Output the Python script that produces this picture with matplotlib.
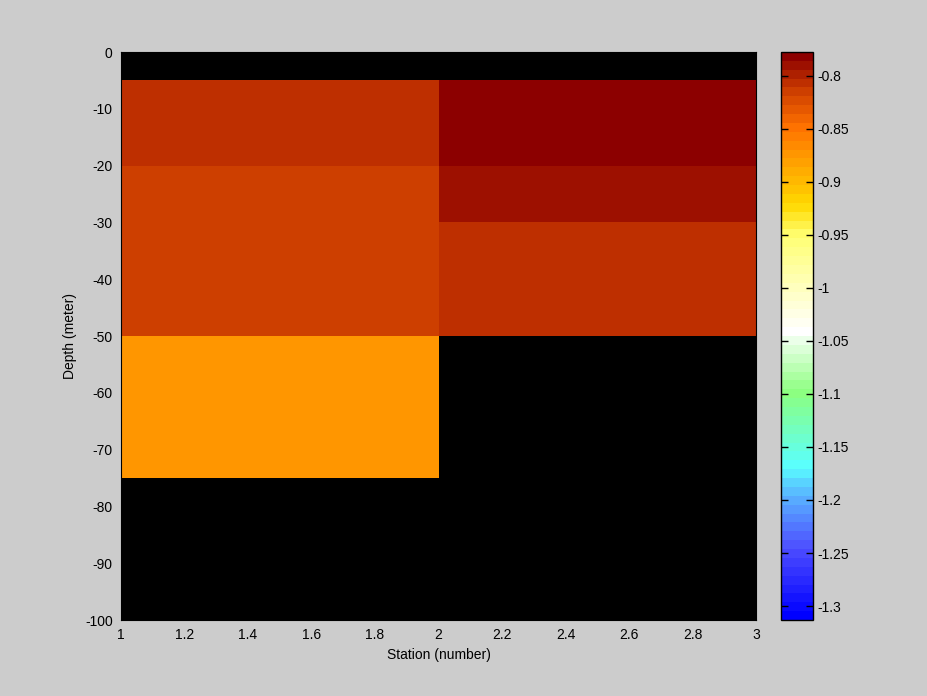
import numpy as np
import matplotlib.pyplot as plt
from matplotlib.colors import LinearSegmentedColormap, ListedColormap

# grid edges
station = [1, 2, 3]
depth = [0, -5, -20, -30, -50, -75, -100]

# values per depth layer (rows) and station interval (cols), nan = no data
values = np.array([
    [np.nan, np.nan],
    [-0.804, -0.782],
    [-0.818, -0.789],
    [-0.818, -0.804],
    [-0.870, np.nan],
    [np.nan, np.nan],
])

vmin, vmax = -1.3132, -0.7774

stops = [
    (-1.3132, (0.0, 0.0, 1.0)),
    (-1.25, (0.3, 0.3, 1.0)),
    (-1.2, (0.35, 0.7, 1.0)),
    (-1.17, (0.35, 1.0, 1.0)),
    (-1.1, (0.55, 1.0, 0.5)),
    (-1.04, (1.0, 1.0, 1.0)),
    (-0.95, (1.0, 1.0, 0.45)),
    (-0.92, (1.0, 0.85, 0.0)),
    (-0.87, (1.0, 0.59, 0.0)),
    (-0.845, (1.0, 0.45, 0.0)),
    (-0.81, (0.8, 0.24, 0.0)),
    (-0.7774, (0.55, 0.0, 0.0)),
]
smooth = LinearSegmentedColormap.from_list(
    'depthmap', [((v - vmin) / (vmax - vmin), c) for v, c in stops])
cmap = ListedColormap(smooth(np.linspace(0, 1, 64)))
cmap.set_bad('black')

plt.rcParams['font.family'] = ['Liberation Sans', 'DejaVu Sans']
plt.rcParams['font.size'] = 10
plt.rcParams['axes.unicode_minus'] = False

fig = plt.figure(figsize=(9.28, 6.96), dpi=100, facecolor='#cccccc')
ax = fig.add_axes([121/928, 76/696, 635/928, 568/696])
cax = fig.add_axes([781/928, 76/696, 32/928, 568/696])

mesh = ax.pcolormesh(station, depth, np.ma.masked_invalid(values),
                     cmap=cmap, vmin=vmin, vmax=vmax)
ax.set_facecolor('black')
ax.set_xlim(1, 3)
ax.set_ylim(-100, 0)
ax.set_xticks(np.arange(1, 3.01, 0.2))
ax.set_xticklabels(['%g' % round(t, 1) for t in np.arange(1, 3.01, 0.2)])
ax.set_yticks(np.arange(-100, 1, 10))
ax.tick_params(length=0, pad=6)
ax.set_xlabel('Station (number)', labelpad=4)
ax.set_ylabel('Depth (meter)', labelpad=6)
for s in ax.spines.values():
    s.set_color('black')

cb = fig.colorbar(mesh, cax=cax)
ticks = np.arange(-1.3, -0.79, 0.05)
cb.set_ticks(ticks)
cb.set_ticklabels(['%g' % round(t, 2) for t in ticks])
cax.tick_params(direction='in', length=5, width=1, left=True, right=True, pad=3)
cb.outline.set_edgecolor('black')
cb.outline.set_linewidth(1)

fig.savefig('out.png', dpi=100, facecolor=fig.get_facecolor())
